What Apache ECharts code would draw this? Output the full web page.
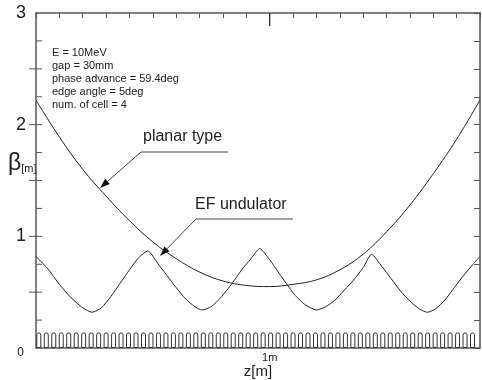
<!DOCTYPE html>
<html>
<head>
<meta charset="utf-8">
<script src="https://cdn.jsdelivr.net/npm/echarts@6/dist/echarts.min.js"></script>
<style>
  html, body { margin: 0; padding: 0; background: #fff; }
  #chart { width: 482px; height: 380px; }
</style>
</head>
<body>
<div id="chart"></div>
<script>
// beta function along z
const zPlanar = [0, 0.1, 0.2, 0.3, 0.4, 0.5, 0.6, 0.7, 0.8, 0.9, 1.0, 1.1, 1.2, 1.3, 1.4, 1.5, 1.6, 1.7, 1.8, 1.9];
const betaPlanar = [2.22, 1.89, 1.60, 1.36, 1.14, 0.95, 0.80, 0.68, 0.60, 0.56, 0.55, 0.57, 0.61, 0.70, 0.84, 1.04, 1.28, 1.56, 1.87, 2.22];

const zEF = [0, 0.05, 0.1, 0.15, 0.2, 0.24, 0.28, 0.32, 0.36, 0.4, 0.44, 0.479,
  0.52, 0.56, 0.6, 0.64, 0.68, 0.71, 0.75, 0.79, 0.84, 0.88, 0.92, 0.957,
  1.0, 1.04, 1.07, 1.11, 1.15, 1.2, 1.24, 1.28, 1.32, 1.36, 1.4, 1.436,
  1.48, 1.52, 1.56, 1.6, 1.64, 1.675, 1.71, 1.75, 1.79, 1.83, 1.87, 1.9];
const betaEF = [0.82, 0.71, 0.57, 0.45, 0.36, 0.32, 0.36, 0.46, 0.58, 0.70, 0.81, 0.87,
  0.76, 0.65, 0.54, 0.44, 0.37, 0.34, 0.37, 0.45, 0.58, 0.70, 0.80, 0.89,
  0.79, 0.67, 0.58, 0.47, 0.39, 0.34, 0.37, 0.43, 0.52, 0.61, 0.72, 0.84,
  0.73, 0.62, 0.51, 0.42, 0.35, 0.32, 0.35, 0.43, 0.54, 0.65, 0.75, 0.82];

// magnet comb drawn along the bottom
const combStart = 0.012;
const combPitch = 0.032;
const combCount = 59;
const combHeight = 0.14;

// left axis ticks (inside every 0.25, crossing at 0.5 steps) and the long top tick
const leftTicks = [0.25, 0.5, 0.75, 1, 1.25, 1.5, 1.75, 2, 2.25, 2.5, 2.75];
const leftOuterTicks = [0.5, 1, 1.5, 2, 2.5];
const topLongTicks = [1];

const infoLines = [
  "E = 10MeV",
  "gap = 30mm",
  "phase advance = 59.4deg",
  "edge angle = 5deg",
  "num. of cell = 4"
];

const FONT = "Liberation Sans, Arial, sans-serif";
const INK = "#222";
const AXIS = "#555";

const chart = echarts.init(document.getElementById("chart"));

const combData = [];
for (let i = 0; i < combCount; i++) {
  combData.push([combStart + i * combPitch, combHeight]);
}

function arrow(x1, y1, x2, y2) {
  const ang = Math.atan2(y2 - y1, x2 - x1);
  const len = 10, half = 3.5;
  const bx = x2 - len * Math.cos(ang), by = y2 - len * Math.sin(ang);
  const px = -Math.sin(ang) * half, py = Math.cos(ang) * half;
  return [
    { type: "line", shape: { x1: x1, y1: y1, x2: bx, y2: by }, style: { stroke: "#444", lineWidth: 1 } },
    { type: "polygon", shape: { points: [[x2, y2], [bx + px, by + py], [bx - px, by - py]] }, style: { fill: "#111" } }
  ];
}

const graphics = [
  {
    type: "text", left: 52, top: 47,
    style: { text: infoLines.join("\n"), font: "11px " + FONT, fill: "#222", lineHeight: 12.8 }
  },
  {
    type: "text", left: 8, top: 152,
    style: {
      text: "{b|β}{s|[m]}",
      rich: {
        b: { fontSize: 23, fontFamily: FONT, fill: "#222" },
        s: { fontSize: 11, fontFamily: FONT, fill: "#222", padding: [11, 0, 0, 0] }
      }
    }
  },
  { type: "text", left: 143, top: 129, style: { text: "planar type", font: "16px " + FONT, fill: "#222" } },
  { type: "line", shape: { x1: 141, y1: 152, x2: 228, y2: 152 }, style: { stroke: "#444", lineWidth: 1 } },
  ...arrow(141, 152, 100, 188),
  { type: "text", left: 195, top: 197, style: { text: "EF undulator", font: "16px " + FONT, fill: "#222" } },
  { type: "line", shape: { x1: 196, y1: 219, x2: 293, y2: 219 }, style: { stroke: "#444", lineWidth: 1 } },
  ...arrow(196, 219, 160, 256)
];

chart.setOption({
  animation: false,
  grid: { left: 36, right: 2, top: 13, bottom: 32, outerBoundsMode: "none", containLabel: false },
  xAxis: [
    {
      type: "value", min: 0, max: 1.9, interval: 1, position: "bottom",
      axisLine: { onZero: false, lineStyle: { color: AXIS, width: 1.5 } },
      axisTick: { show: false },
      splitLine: { show: false },
      axisLabel: { formatter: (v) => (v === 1 ? "1m" : ""), fontSize: 11, fontFamily: FONT, color: "#222", margin: 4 },
      name: "z[m]", nameLocation: "middle", nameGap: 16, nameMoveOverlap: false,
      nameTextStyle: { fontSize: 15, fontFamily: FONT, color: "#222" }
    },
    {
      type: "value", min: 0, max: 1.9, interval: 0.1, position: "top",
      axisLine: { onZero: false, lineStyle: { color: AXIS, width: 1.5 } },
      axisTick: { show: true, inside: true, length: 5, lineStyle: { color: AXIS } },
      axisLabel: { show: false },
      splitLine: { show: false }
    }
  ],
  yAxis: [
    {
      type: "value", min: 0, max: 3, interval: 0.25, position: "left",
      axisLine: { show: true, onZero: false, lineStyle: { color: AXIS, width: 1.5 } },
      axisTick: { show: false },
      splitLine: { show: false },
      axisLabel: {
        margin: 10,
        formatter: (v) => (v === 0 ? "{s|0}" : Number.isInteger(v) ? "{l|" + v + "}" : ""),
        rich: {
          s: { fontSize: 12, fontFamily: FONT, color: "#222", padding: [9, 2, 0, 0] },
          l: { fontSize: 18, fontFamily: FONT, color: "#222" }
        }
      }
    },
    {
      type: "value", min: 0, max: 3, interval: 0.25, position: "right",
      axisLine: { show: true, onZero: false, lineStyle: { color: AXIS, width: 1.5 } },
      axisTick: { show: true, inside: true, length: 6, lineStyle: { color: AXIS } },
      axisLabel: { show: false },
      splitLine: { show: false }
    }
  ],
  series: [
    {
      name: "magnets", type: "bar", xAxisIndex: 0, yAxisIndex: 0,
      data: combData, barWidth: 5, silent: true,
      itemStyle: { color: "#fff", borderColor: "#333", borderWidth: 1, borderRadius: [2.5, 2.5, 0, 0] }
    },
    {
      name: "planar type", type: "line", xAxisIndex: 0, yAxisIndex: 0,
      data: zPlanar.map((z, i) => [z, betaPlanar[i]]),
      showSymbol: false, smooth: 0.4,
      lineStyle: { color: INK, width: 1 }
    },
    {
      name: "EF undulator", type: "line", xAxisIndex: 0, yAxisIndex: 0,
      data: zEF.map((z, i) => [z, betaEF[i]]),
      showSymbol: false, smooth: 0.2,
      lineStyle: { color: INK, width: 1 }
    }
  ]
});

// tick decorations placed through the axes' own scales
leftTicks.forEach((b) => {
  const p = chart.convertToPixel({ gridIndex: 0 }, [0, b]);
  graphics.push({ type: "line", z: 10, shape: { x1: p[0], y1: p[1], x2: p[0] + 6, y2: p[1] }, style: { stroke: AXIS, lineWidth: 1 } });
});
leftOuterTicks.forEach((b) => {
  const p = chart.convertToPixel({ gridIndex: 0 }, [0, b]);
  graphics.push({ type: "line", z: 10, shape: { x1: p[0] - 7, y1: p[1], x2: p[0], y2: p[1] }, style: { stroke: AXIS, lineWidth: 1 } });
});
topLongTicks.forEach((z) => {
  const p = chart.convertToPixel({ gridIndex: 0 }, [z, 3]);
  graphics.push({ type: "line", z: 10, shape: { x1: p[0], y1: p[1], x2: p[0], y2: p[1] + 13 }, style: { stroke: "#222", lineWidth: 1.2 } });
});

chart.setOption({ graphic: graphics });
</script>
</body>
</html>
